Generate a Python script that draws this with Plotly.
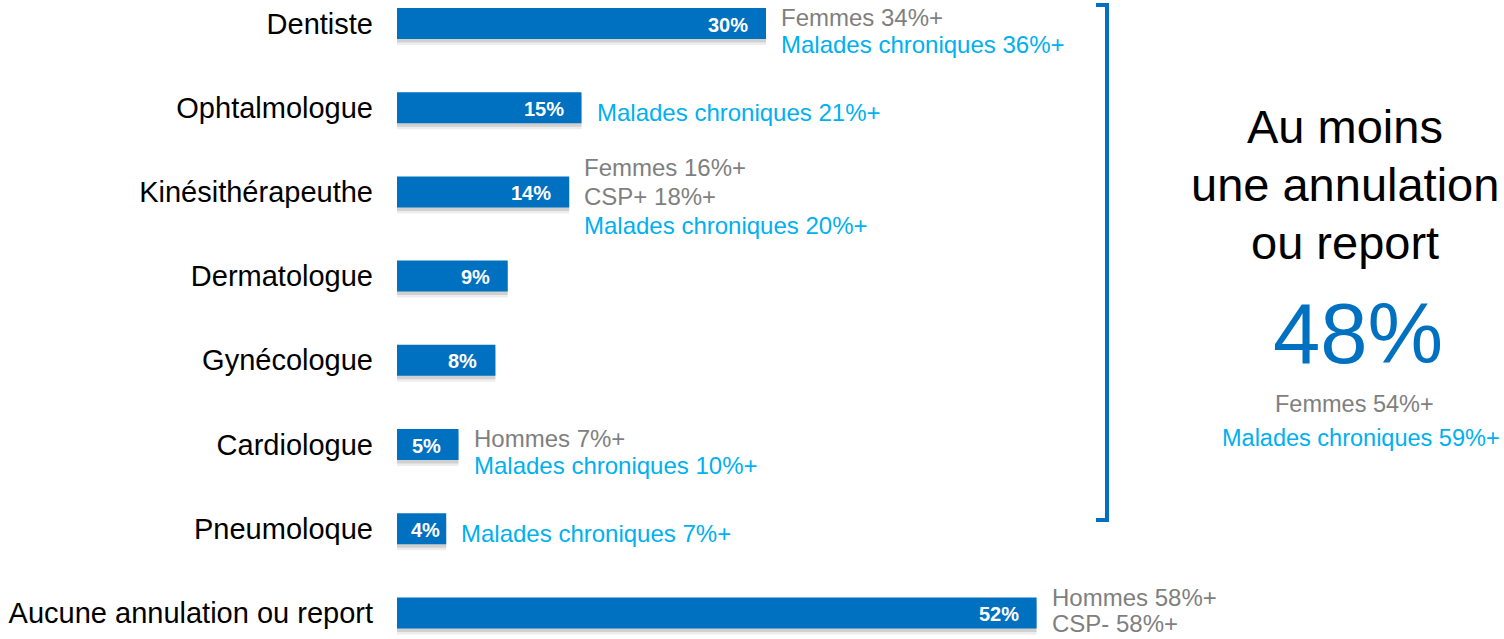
import plotly.graph_objects as go

categories = ["Dentiste", "Ophtalmologue", "Kinésithérapeuthe", "Dermatologue",
              "Gynécologue", "Cardiologue", "Pneumoloque", "Aucune annulation ou report"]
values = [30, 15, 14, 9, 8, 5, 4, 52]
value_labels = ["30%", "15%", "14%", "9%", "8%", "5%", "4%", "52%"]

# side notes: (category index, lines, colour keys)
side_notes = [
    (0, ["Femmes 34%+", "Malades chroniques 36%+"], ["g", "c"]),
    (1, ["Malades chroniques 21%+"], ["c"]),
    (2, ["Femmes 16%+", "CSP+ 18%+", "Malades chroniques 20%+"], ["g", "g", "c"]),
    (5, ["Hommes 7%+", "Malades chroniques 10%+"], ["g", "c"]),
    (6, ["Malades chroniques 7%+"], ["c"]),
    (7, ["Hommes 58%+", "CSP- 58%+"], ["g", "g"]),
]

total_title = ["Au moins", "une annulation", "ou report"]
total_value = "48%"
total_notes = ["Femmes 54%+", "Malades chroniques 59%+"]

BLUE = "#0070C0"
GRAY = "#7F7F7F"
CYAN = "#00B0F0"
FONT = "Arial, Liberation Sans, sans-serif"

W, H = 1504, 639
L = 397
PX_PER_UNIT = 12.3
XMAX = (W - L) / PX_PER_UNIT
STEP = 84.2
Y0 = 23.5
yr_top = -Y0 / STEP
yr_bot = (H - Y0) / STEP
bw = 31 / STEP

ypos = list(range(len(categories)))

fig = go.Figure()
# soft shadow (two layers)
fig.add_trace(go.Bar(
    x=values, y=ypos, orientation="h", width=bw, offset=-bw / 2 + 6 / STEP,
    marker=dict(color="rgba(0,0,0,0.07)", line=dict(width=0)),
    hoverinfo="skip", showlegend=False))
fig.add_trace(go.Bar(
    x=values, y=ypos, orientation="h", width=bw, offset=-bw / 2 + 3.5 / STEP,
    marker=dict(color="rgba(0,0,0,0.12)", line=dict(width=0)),
    hoverinfo="skip", showlegend=False))
fig.add_trace(go.Bar(
    x=values, y=ypos, orientation="h", width=bw, offset=-bw / 2,
    marker=dict(color=BLUE, line=dict(width=0)),
    showlegend=False))

ann = []
for i, (v, lab) in enumerate(zip(values, value_labels)):
    ann.append(dict(x=v, y=i, xref="x", yref="y", text="<b>%s</b>" % lab,
                    showarrow=False, xanchor="right", yanchor="middle",
                    xshift=-16 if v >= 5 else -4, yshift=-1,
                    font=dict(family=FONT, size=20, color="white")))

for idx, lines, cols in side_notes:
    n = len(lines)
    for k, (t, c) in enumerate(zip(lines, cols)):
        if n == 1:
            dy = 5
        elif n == 2:
            dy = (-15 + k * 26) if idx == len(categories) - 1 else (-6.5 + k * 27)
        else:
            dy = (k - 1) * 29 + 4.5
        ann.append(dict(x=values[idx], y=idx, xref="x", yref="y", text=t,
                        showarrow=False, xanchor="left", yanchor="middle",
                        xshift=13, yshift=-dy,
                        font=dict(family=FONT, size=24,
                                  color=GRAY if c == "g" else CYAN)))


def px_x(px):
    return (px - L) / (W - L)


def px_y(py):
    return 1 - py / H


for k, t in enumerate(total_title):
    ann.append(dict(x=px_x(1345), y=px_y(127 + k * 58), xref="paper", yref="paper",
                    text=t, showarrow=False, xanchor="center", yanchor="middle",
                    font=dict(family=FONT, size=47, color="black")))
ann.append(dict(x=px_x(1358), y=px_y(333), xref="paper", yref="paper",
                text=total_value, showarrow=False, xanchor="center", yanchor="middle",
                font=dict(family=FONT, size=85, color=BLUE)))
ann.append(dict(x=px_x(1354), y=px_y(404), xref="paper", yref="paper",
                text=total_notes[0], showarrow=False, xanchor="center", yanchor="middle",
                font=dict(family=FONT, size=23.5, color=GRAY)))
ann.append(dict(x=px_x(1361), y=px_y(438), xref="paper", yref="paper",
                text=total_notes[1], showarrow=False, xanchor="center", yanchor="middle",
                font=dict(family=FONT, size=23.5, color=CYAN)))

shapes = [
    dict(type="path", xref="paper", yref="paper",
         path="M %f %f L %f %f L %f %f L %f %f" % (
             px_x(1096), px_y(5), px_x(1107), px_y(5),
             px_x(1107), px_y(520), px_x(1096), px_y(520)),
         line=dict(color=BLUE, width=4)),
]

fig.update_layout(
    width=W, height=H,
    margin=dict(l=L, r=0, t=0, b=0),
    paper_bgcolor="white", plot_bgcolor="white",
    barmode="overlay",
    xaxis=dict(range=[0, XMAX], visible=False, fixedrange=True),
    yaxis=dict(range=[yr_bot, yr_top], tickvals=ypos, ticktext=categories,
               showgrid=False, zeroline=False, showline=False, ticks="",
               ticklabelstandoff=23,
               tickfont=dict(family=FONT, size=29, color="black")),
    annotations=ann, shapes=shapes,
    font=dict(family=FONT),
)

fig.write_html("out.html")
